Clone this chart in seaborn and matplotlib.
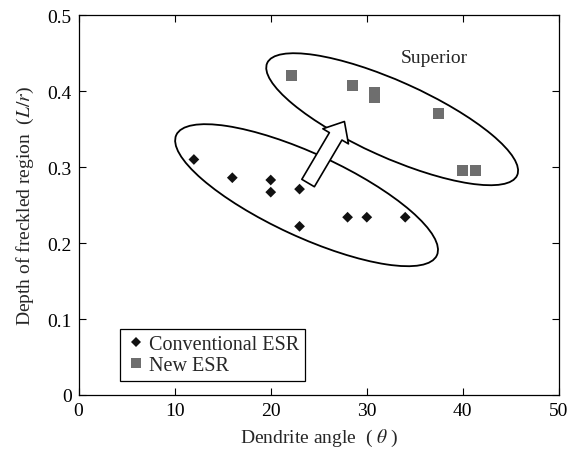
import matplotlib
matplotlib.use("Agg")
import matplotlib.pyplot as plt
import matplotlib.transforms as mtransforms
from matplotlib.patches import Ellipse, FancyArrowPatch
import seaborn as sns
import pandas as pd

# ---- data ----
conv_angle = [12, 16, 20, 20, 23, 23, 28, 30, 34]
conv_depth = [0.310, 0.286, 0.283, 0.267, 0.271, 0.222, 0.234, 0.234, 0.234]
new_angle = [22.2, 28.5, 30.8, 30.8, 37.5, 40.0, 41.3]
new_depth = [0.420, 0.408, 0.398, 0.391, 0.371, 0.296, 0.296]
group_names = ["Conventional ESR", "New ESR"]
x_ticks = [0, 10, 20, 30, 40, 50]
x_tick_labels = ["0", "10", "20", "30", "40", "50"]
y_ticks = [0, 0.1, 0.2, 0.3, 0.4, 0.5]
y_tick_labels = ["0", "0.1", "0.2", "0.3", "0.4", "0.5"]

df = pd.DataFrame({
    "angle": conv_angle + new_angle,
    "depth": conv_depth + new_depth,
    "group": [group_names[0]] * len(conv_angle) + [group_names[1]] * len(new_angle),
})

sns.set_style("ticks")
plt.rcParams["font.family"] = ["Liberation Serif", "DejaVu Serif"]
plt.rcParams["mathtext.fontset"] = "stix"
plt.rcParams["font.size"] = 14

fig = plt.figure(figsize=(5.78, 4.56), dpi=100)
ax = fig.add_axes([0.136, 0.1316, 0.831, 0.833])

sns.scatterplot(
    data=df, x="angle", y="depth", hue="group", style="group",
    hue_order=group_names, style_order=group_names,
    palette={group_names[0]: "#111111", group_names[1]: "#6e6e6e"},
    markers={group_names[0]: "D", group_names[1]: "s"},
    size="group", sizes={group_names[0]: 30, group_names[1]: 62},
    linewidth=0, edgecolor="none", ax=ax, legend=True,
)

ax.set_xlim(0, 50)
ax.set_ylim(0, 0.5)
ax.set_xticks(x_ticks)
ax.set_xticklabels(x_tick_labels)
ax.set_yticks(y_ticks)
ax.set_yticklabels(y_tick_labels)
ax.tick_params(direction="in", length=5, width=0.8, top=True, right=True,
               labelsize=14, colors="black", pad=5)
for sp in ax.spines.values():
    sp.set_visible(True)
    sp.set_color("black")
    sp.set_linewidth(0.9)

ax.set_xlabel("Dendrite angle  ( $\\theta$ )", fontsize=14, labelpad=6)
ax.set_ylabel("Depth of freckled region  ($L/r$)", fontsize=14, labelpad=8)

# ellipses (size in inches, centred on data points)
def add_ellipse(cx, cy, w_in, h_in, ang):
    tr = fig.dpi_scale_trans + mtransforms.ScaledTranslation(cx, cy, ax.transData)
    e = Ellipse((0, 0), w_in, h_in, angle=ang, transform=tr,
                fill=False, edgecolor="black", linewidth=1.3)
    ax.add_patch(e)

add_ellipse(23.73, 0.263, 2.87, 0.83, -24.8)
add_ellipse(32.64, 0.363, 2.74, 0.76, -24.2)

arrow = FancyArrowPatch(
    posA=(23.89, 0.279), posB=(27.67, 0.360),
    arrowstyle="simple,head_length=1.24,head_width=2.14,tail_width=1.05",
    mutation_scale=10, shrinkA=0, shrinkB=0,
    facecolor="white", edgecolor="black", linewidth=1.2, zorder=3,
)
ax.add_patch(arrow)

ax.text(33.57, 0.4386, "Superior", fontsize=14, ha="left", va="baseline")

handles, labels = ax.get_legend_handles_labels()
leg = ax.legend(handles, labels, loc="lower left", bbox_to_anchor=(0.086, 0.037),
                borderaxespad=0, frameon=True, fancybox=False, framealpha=1,
                edgecolor="black", fontsize=14.5, handlelength=1.0,
                handletextpad=0.15, labelspacing=0.1, borderpad=0.3)
leg.get_frame().set_linewidth(0.9)

fig.savefig("out.png", dpi=100)
